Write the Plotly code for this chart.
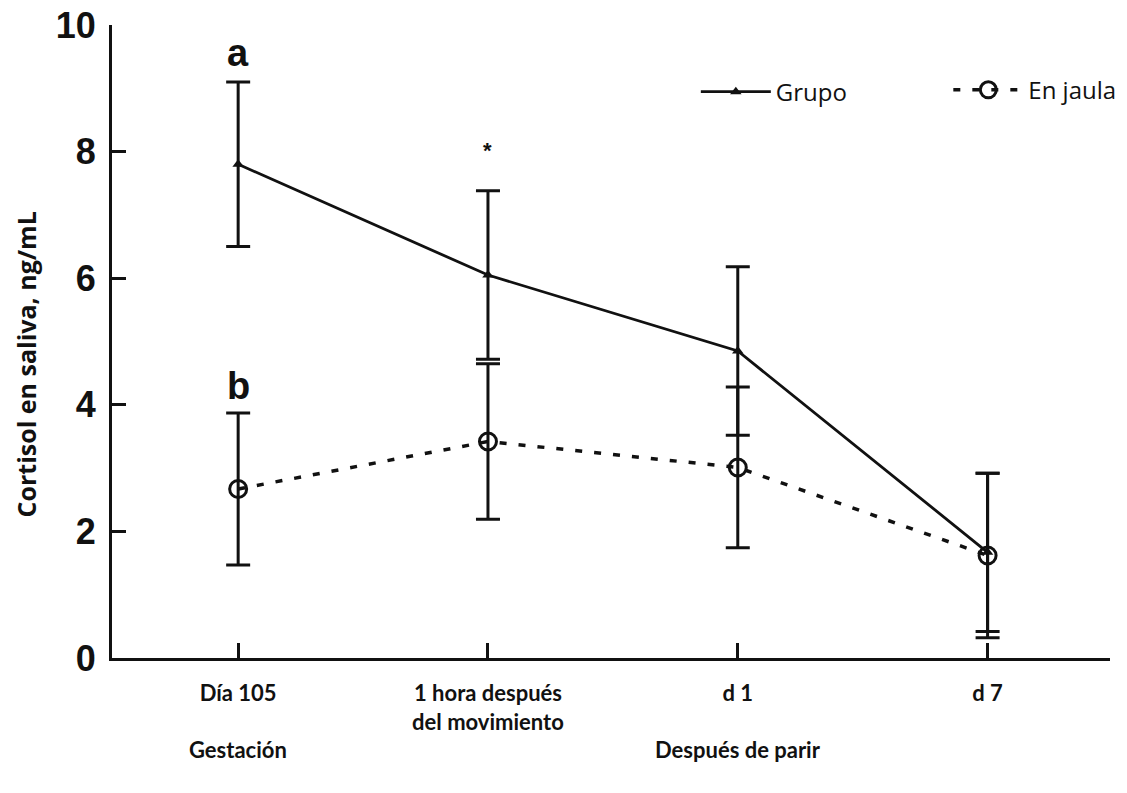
import plotly.graph_objects as go

# Sampling points along the x axis
categories = ["Día 105", "1 hora después<br>del movimiento", "d 1", "d 7"]
x_pos = [0, 1, 2, 3]

# Salivary cortisol (ng/mL): mean and error per group
grupo_mean = [7.8, 6.05, 4.85, 1.67]
grupo_err = [1.3, 1.33, 1.33, 1.25]
jaula_mean = [2.67, 3.42, 3.01, 1.62]
jaula_err = [1.2, 1.23, 1.27, 1.3]

# Significance letters / marks
sig_text = ["a", "b", "*"]
sig_x = [0, 0, 1]
sig_y = [9.55, 4.3, 8.02]
sig_size = [38, 38, 22]

# Period labels under the axis
period_text = ["Gestación", "Después de parir"]
period_x = [0, 2]

y_ticks = [0, 2, 4, 6, 8, 10]

BLACK = "#111111"
LABEL_FONT = dict(family="Lato", size=22, color=BLACK, weight="bold")
LEGEND_FONT = dict(family="Open Sans", size=24, color=BLACK)

fig = go.Figure()

fig.add_trace(go.Scatter(
    x=x_pos, y=grupo_mean, name="Grupo", mode="lines+markers",
    legend="legend",
    line=dict(color=BLACK, width=2.8),
    marker=dict(symbol="triangle-up", size=10, color=BLACK),
    error_y=dict(type="data", array=grupo_err, visible=True,
                 color=BLACK, thickness=3, width=12),
))

fig.add_trace(go.Scatter(
    x=x_pos, y=jaula_mean, name="En jaula", mode="lines+markers",
    legend="legend2",
    line=dict(color=BLACK, width=3.5, dash="7px,12px"),
    marker=dict(symbol="circle-open", size=17, color=BLACK,
                line=dict(width=3, color=BLACK)),
    error_y=dict(type="data", array=jaula_err, visible=True,
                 color=BLACK, thickness=3, width=12),
))

for t, xv, yv, s in zip(sig_text, sig_x, sig_y, sig_size):
    fig.add_annotation(x=xv, y=yv, text=t, showarrow=False,
                       font=dict(family="Liberation Sans", size=s,
                                 color=BLACK, weight="bold"))

for t, xv in zip(period_text, period_x):
    fig.add_annotation(x=xv, xref="x", y=-0.145, yref="paper", text=t,
                       showarrow=False, yanchor="middle", font=LABEL_FONT)

fig.add_annotation(x=-0.086, xref="paper", y=0.464, yref="paper",
                   xanchor="center", yanchor="middle",
                   text="Cortisol en saliva, ng/mL", textangle=-90,
                   showarrow=False,
                   font=dict(family="Open Sans", size=25, color=BLACK,
                             weight="bold"))

legend_common = dict(orientation="h", yanchor="middle", xanchor="left",
                     itemwidth=70, bgcolor="rgba(0,0,0,0)", font=LEGEND_FONT)

fig.update_layout(
    width=1127, height=793,
    margin=dict(l=112, r=17, t=25, b=135, autoexpand=False),
    paper_bgcolor="white", plot_bgcolor="white",
    showlegend=True,
    legend=dict(x=0.585, y=0.894, **legend_common),
    legend2=dict(x=0.838, y=0.897, **legend_common),
    xaxis=dict(range=[-0.505, 3.49], tickvals=x_pos, ticktext=categories,
               showline=True, linecolor=BLACK, linewidth=3,
               ticks="inside", ticklen=15, tickwidth=3, tickcolor=BLACK,
               showgrid=False, zeroline=False, tickfont=LABEL_FONT,
               ticklabelstandoff=14),
    yaxis=dict(range=[0, 10], tickvals=y_ticks,
               showline=True, linecolor=BLACK, linewidth=3,
               ticks="inside", ticklen=14, tickwidth=3, tickcolor=BLACK,
               showgrid=False, zeroline=False,
               tickfont=dict(family="Liberation Sans", size=36,
                             color=BLACK, weight="bold"),
               ticklabelstandoff=6),
)

fig.write_html("out.html")
